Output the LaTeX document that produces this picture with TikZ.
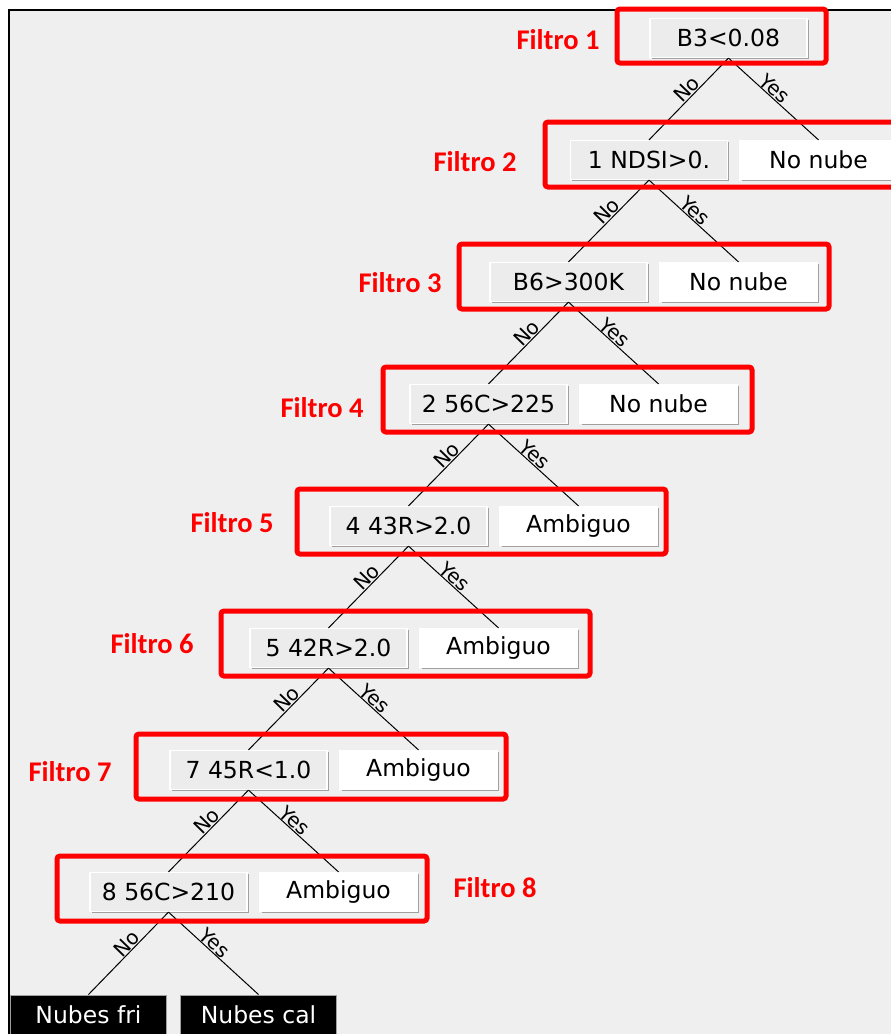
\documentclass[tikz,border=0pt]{standalone}
\usepackage{fontspec}
\usepackage{tikz}
\usetikzlibrary{shadows}
\newfontfamily\btnfont{DejaVu Sans}
\newfontfamily\lblfont{Carlito}
\definecolor{panelgray}{RGB}{239,239,239}
\definecolor{btngray}{RGB}{236,236,236}
\definecolor{btnedge}{RGB}{160,160,160}
\definecolor{filtred}{RGB}{255,0,0}
\tikzset{
  cond/.style={rectangle, fill=btngray, draw=white, line width=1.2pt,
    minimum width=157pt, minimum height=39pt, inner sep=0pt,
    font=\btnfont\fontsize{23.5}{27}\selectfont,
    drop shadow={shadow xshift=1.5pt, shadow yshift=-1.5pt, fill=btnedge, opacity=1}},
  outcome/.style={cond, fill=white},
  final/.style={rectangle, fill=black, draw=btnedge, line width=1pt,
    minimum width=156pt, minimum height=40pt, inner sep=0pt,
    text=white, font=\btnfont\fontsize{23.5}{27}\selectfont},
  edge/.style={line width=1pt, color=black},
  elab/.style={sloped, anchor=south, inner sep=0.5pt, pos=0.45,
    font=\btnfont\fontsize{20}{22}\selectfont},
  filterbox/.style={draw=filtred, line width=5pt, rounded corners=3pt},
  filtlabel/.style={text=filtred, font=\lblfont\bfseries\fontsize{28.5}{32}\selectfont}
}

\begin{document}
\begin{tikzpicture}[x=1pt, y=-1pt]
  \useasboundingbox (0,0) rectangle (891,1034);
  \clip (0,0) rectangle (891,1034);

  % Panel
  \fill[panelgray] (9,10) rectangle (895,1040);
  \draw[line width=2pt] (9,1040) -- (9,10) -- (895,10);

  % Decision buttons
  \node[cond] (d1) at (728.5,38) {B3<0.08};
  \node[cond] (d2) at (649,160) {1 NDSI>0.};
  \node[cond] (d3) at (568.5,282) {B6>300K};
  \node[cond] (d4) at (488.5,404) {2 56C>225};
  \node[cond] (d5) at (408.5,526) {4 43R>2.0};
  \node[cond] (d6) at (328.5,648) {5 42R>2.0};
  \node[cond] (d7) at (248.5,770) {7 45R<1.0};
  \node[cond] (d8) at (168.5,892) {8 56C>210};

  % Outcome buttons
  \node[outcome] (o2) at (818.5,160) {No nube};
  \node[outcome] (o3) at (738.5,282) {No nube};
  \node[outcome] (o4) at (658.5,404) {No nube};
  \node[outcome] (o5) at (578.5,526) {Ambiguo};
  \node[outcome] (o6) at (498.5,648) {Ambiguo};
  \node[outcome] (o7) at (418.5,770) {Ambiguo};
  \node[outcome] (o8) at (338.5,892) {Ambiguo};

  % Final classes
  \node[final] (fri) at (88.5,1015) {Nubes fri};
  \node[final] (cal) at (258.5,1015) {Nubes cal};

  % Branches
  \draw[edge] (d1.south) -- node[elab] {No} (d2.north);
  \draw[edge] (d1.south) -- node[elab] {Yes} (o2.north);
  \draw[edge] (d2.south) -- node[elab] {No} (d3.north);
  \draw[edge] (d2.south) -- node[elab] {Yes} (o3.north);
  \draw[edge] (d3.south) -- node[elab] {No} (d4.north);
  \draw[edge] (d3.south) -- node[elab] {Yes} (o4.north);
  \draw[edge] (d4.south) -- node[elab] {No} (d5.north);
  \draw[edge] (d4.south) -- node[elab] {Yes} (o5.north);
  \draw[edge] (d5.south) -- node[elab] {No} (d6.north);
  \draw[edge] (d5.south) -- node[elab] {Yes} (o6.north);
  \draw[edge] (d6.south) -- node[elab] {No} (d7.north);
  \draw[edge] (d6.south) -- node[elab] {Yes} (o7.north);
  \draw[edge] (d7.south) -- node[elab] {No} (d8.north);
  \draw[edge] (d7.south) -- node[elab] {Yes} (o8.north);
  \draw[edge] (d8.south) -- node[elab] {No} (fri.north);
  \draw[edge] (d8.south) -- node[elab] {Yes} (cal.north);

  % Filter frames
  \draw[filterbox] (617,9) rectangle (826,63);
  \draw[filterbox] (545,122) rectangle (900,187);
  \draw[filterbox] (459,244) rectangle (829,309);
  \draw[filterbox] (383,367) rectangle (752,432);
  \draw[filterbox] (297,489) rectangle (666,554);
  \draw[filterbox] (221,611) rectangle (590,676);
  \draw[filterbox] (136,734) rectangle (506,799);
  \draw[filterbox] (57,856) rectangle (427,921);

  % Filter labels
  \node[filtlabel] (f1) at (558,40) {Filtro 1};
  \node[filtlabel] (f2) at (475,162) {Filtro 2};
  \node[filtlabel] (f3) at (400,283) {Filtro 3};
  \node[filtlabel] (f4) at (322,408) {Filtro 4};
  \node[filtlabel] (f5) at (232,523) {Filtro 5};
  \node[filtlabel] (f6) at (152,644) {Filtro 6};
  \node[filtlabel] (f7) at (70,772) {Filtro 7};
  \node[filtlabel] (f8) at (495,888) {Filtro 8};
\end{tikzpicture}
\end{document}
